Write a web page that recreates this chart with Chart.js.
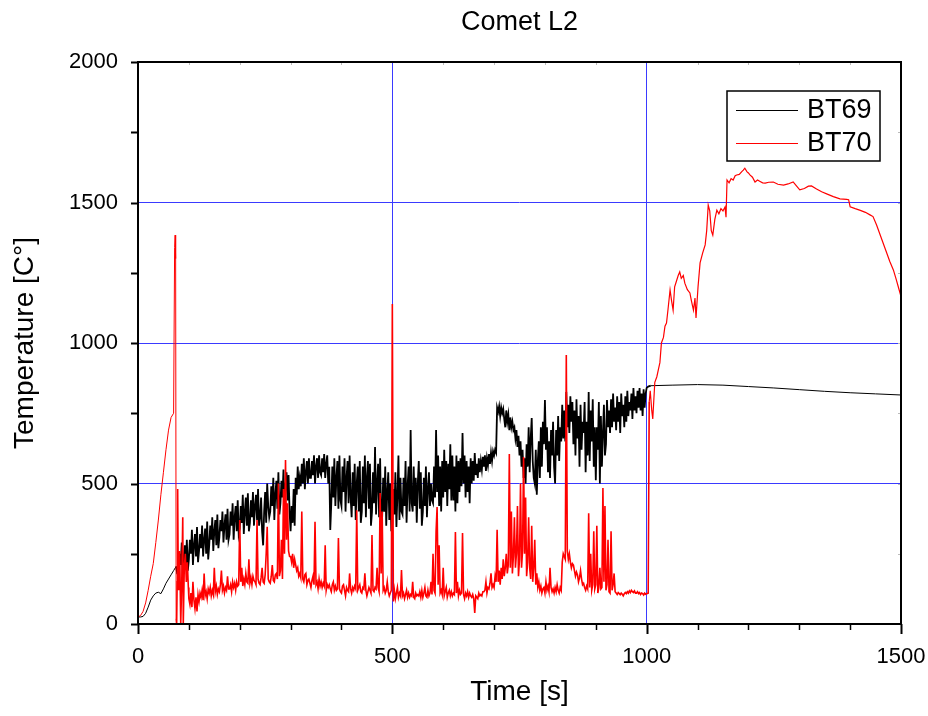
<!DOCTYPE html>
<html>
<head>
<meta charset="utf-8">
<title>Comet L2</title>
<script src="https://cdn.jsdelivr.net/npm/chart.js@4.4.1/dist/chart.umd.min.js"></script>
<style>
  html, body { margin: 0; padding: 0; background: #fff; }
  #chart { display: block; }
</style>
</head>
<body>
<canvas id="chart" width="928" height="716"></canvas>
<script>
// BT69 thermocouple (black)
const bt69Time = [
  0, 5, 10, 15, 20, 25, 30, 35, 40, 45, 50, 55, 60, 65, 70, 75, 77,
  80, 82, 84, 86, 88, 90, 92, 94, 96, 98,
  100, 102, 104, 106, 108, 110, 112, 114, 116, 118,
  120, 122, 124, 126, 128, 130, 132, 134, 136, 138,
  140, 142, 144, 146, 148, 150, 152, 154, 156, 158,
  160, 162, 164, 166, 168, 170, 172, 174, 176, 178,
  180, 182, 184, 186, 188, 190, 192, 194, 196, 198,
  200, 202, 204, 206, 208, 210, 212, 214, 216, 218,
  220, 222, 224, 226, 228, 230, 232, 234, 236, 238,
  240, 242, 244, 246, 248, 250, 252, 254, 256, 258,
  260, 262, 264, 266, 268, 270, 272, 274, 276, 278,
  280, 282, 284, 286, 288, 290, 292, 294, 296, 298,
  300, 302, 304, 306, 308, 310, 312, 314, 316, 318,
  320, 322, 324, 326, 328, 330, 332, 334, 336, 338,
  340, 342, 344, 346, 348, 350, 352, 354, 356, 358,
  360, 362, 364, 366, 368, 370, 372, 374, 376, 378,
  380, 382, 384, 386, 388, 390, 392, 394, 396, 398,
  400, 402, 404, 406, 408, 410, 412, 414, 416, 418,
  420, 422, 424, 426, 428, 430, 432, 434, 436, 438,
  440, 442, 444, 446, 448, 450, 452, 454, 456, 458,
  460, 462, 464, 466, 468, 470, 472, 474, 476, 478,
  480, 482, 484, 486, 488, 490, 492, 494, 496, 498,
  500, 502, 504, 506, 508, 510, 512, 514, 516, 518,
  520, 522, 524, 526, 528, 530, 532, 534, 536, 538,
  540, 542, 544, 546, 548, 550, 552, 554, 556, 558,
  560, 562, 564, 566, 568, 570, 572, 574, 576, 578,
  580, 582, 584, 586, 588, 590, 592, 594, 596, 598,
  600, 602, 604, 606, 608, 610, 612, 614, 616, 618,
  620, 622, 624, 626, 628, 630, 632, 634, 636, 638,
  640, 642, 644, 646, 648, 650, 652, 654, 656, 658,
  660, 662, 664, 666, 668, 670, 672, 674, 676, 678,
  680, 682, 684, 686, 688, 690, 692, 694, 696, 698,
  700, 702, 704, 706, 708, 710, 712, 714, 716, 718,
  720, 722, 724, 726, 728, 730, 732, 734, 736, 738,
  740, 742, 744, 746, 748, 750, 752, 754, 756, 758,
  760, 762, 764, 766, 768, 770, 772, 774, 776, 778,
  780, 782, 784, 786, 788, 790, 792, 794, 796, 798,
  800, 802, 804, 806, 808, 810, 812, 814, 816, 818,
  820, 822, 824, 826, 828, 830, 832, 834, 836, 838,
  840, 842, 844, 846, 848, 850, 852, 854, 856, 858,
  860, 862, 864, 866, 868, 870, 872, 874, 876, 878,
  880, 882, 884, 886, 888, 890, 892, 894, 896, 898,
  900, 902, 904, 906, 908, 910, 912, 914, 916, 918,
  920, 922, 924, 926, 928, 930, 932, 934, 936, 938,
  940, 942, 944, 946, 948, 950, 952, 954, 956, 958,
  960, 962, 964, 966, 968, 970, 972, 974, 976, 978,
  980, 982, 984, 986, 988, 990, 992, 994, 996, 998,
  1000, 1003, 1008, 1050, 1100, 1150, 1200, 1250, 1300, 1350, 1400, 1450, 1500
];
const bt69Temp = [
  25, 25, 27, 38, 60, 85, 100, 110, 113, 108, 125, 145, 160, 175, 190, 205, 180,
  180, 250, 210, 290, 170, 240, 280, 200, 300, 190,
  230, 300, 250, 335, 210, 280, 320, 240, 345, 220,
  260, 320, 270, 350, 240, 300, 340, 250, 365, 230,
  280, 350, 300, 380, 260, 330, 370, 280, 390, 270,
  310, 370, 330, 400, 290, 350, 390, 300, 410, 300,
  320, 400, 350, 430, 300, 380, 420, 330, 440, 320,
  340, 420, 360, 460, 320, 400, 450, 350, 465, 330,
  360, 440, 380, 470, 350, 420, 460, 370, 480, 350,
  380, 450, 330, 280, 400, 470, 360, 500, 420, 380,
  400, 490, 420, 520, 370, 460, 510, 410, 540, 390,
  430, 510, 450, 550, 410, 490, 540, 440, 530, 400,
  330, 420, 360, 480, 350, 520, 460, 560, 480, 520,
  490, 570, 500, 590, 480, 540, 580, 500, 590, 520,
  520, 580, 530, 600, 500, 560, 590, 520, 600, 540,
  530, 590, 540, 605, 520, 570, 600, 500, 560, 335,
  430, 560, 450, 590, 420, 520, 580, 410, 600, 440,
  420, 560, 470, 590, 400, 520, 580, 430, 600, 450,
  380, 540, 420, 570, 370, 500, 560, 400, 580, 360,
  400, 560, 430, 600, 380, 520, 580, 410, 570, 350,
  400, 540, 430, 630, 390, 500, 570, 380, 590, 370,
  380, 520, 400, 560, 350, 470, 540, 370, 500, 330,
  360, 480, 390, 540, 345, 460, 600, 370, 520, 400,
  390, 520, 420, 580, 360, 490, 560, 400, 690, 430,
  400, 560, 420, 520, 360, 500, 580, 410, 540, 350,
  400, 520, 420, 560, 380, 480, 540, 420, 500, 440,
  430, 560, 450, 690, 470, 600, 420, 560, 400, 580,
  450, 620, 470, 580, 420, 570, 480, 640, 440, 600,
  440, 560, 400, 600, 430, 580, 470, 590, 490, 680,
  500, 600, 450, 580, 470, 560, 430, 590, 500, 580,
  510, 608, 530, 570, 520, 590, 540, 580, 550, 595,
  560, 600, 545, 590, 565, 605, 570, 610, 580, 615,
  600, 620, 610, 770, 755, 775, 740, 770, 750, 765,
  730, 700, 760, 720, 745, 690, 735, 700, 720, 690,
  700, 660, 690, 630, 670, 600, 650, 560, 620, 520,
  590, 500, 640, 560, 700, 540, 660, 733, 580, 520,
  500, 620, 460, 580, 650, 520, 700, 560, 720, 640,
  797, 620, 700, 540, 650, 520, 690, 600, 720, 560,
  500, 690, 600, 740, 580, 700, 650, 780, 660, 760,
  650, 826, 700, 780, 680, 810, 720, 790, 640, 760,
  600, 800, 660, 740, 560, 780, 620, 720, 680, 790,
  540, 720, 600, 826, 580, 760, 650, 800, 560, 700,
  512, 700, 620, 790, 500, 740, 560, 680, 780, 600,
  640, 797, 700, 760, 680, 800, 700, 820, 720, 770,
  690, 810, 720, 790, 680, 820, 740, 780, 700, 810,
  720, 830, 740, 790, 760, 820, 730, 840, 760, 810,
  750, 830, 770, 840, 760, 820, 740, 835, 770, 820,
  840, 845, 848, 850, 852, 850, 845, 840, 834, 828, 823, 819, 815
];

// BT70 thermocouple (red)
const bt70Time = [
  0, 5, 10, 15, 20, 25, 30, 35, 40, 45, 50, 55, 60, 65, 70,
  72, 73, 74, 75, 76, 77, 78, 79, 80, 82, 84, 86, 88, 89, 91, 93, 95, 97, 99,
  100, 102, 104, 106, 108, 110, 112, 114, 116, 118,
  120, 122, 124, 126, 128, 130, 132, 134, 136, 138,
  140, 142, 144, 146, 148, 150, 152, 154, 156, 158,
  160, 162, 164, 166, 168, 170, 172, 174, 176, 178,
  180, 182, 184, 186, 188, 190, 192, 194, 196, 198,
  200, 202, 204, 206, 208, 210, 212, 214, 216, 218,
  220, 222, 224, 226, 228, 230, 232, 234, 236, 238,
  240, 242, 244, 246, 248, 250, 252, 254, 256, 258,
  260, 262, 264, 266, 268, 270, 272, 274, 276, 278,
  280, 282, 284, 286, 288, 290, 292, 294, 296, 298,
  300, 302, 304, 306, 308, 310, 312, 314, 316, 318,
  320, 322, 324, 326, 328, 330, 332, 334, 336, 338,
  340, 342, 344, 346, 348, 350, 352, 354, 356, 358,
  360, 362, 364, 366, 368, 370, 372, 374, 376, 378,
  380, 382, 384, 386, 388, 390, 392, 394, 396, 398,
  400, 402, 404, 406, 408, 410, 412, 414, 416, 418,
  420, 422, 424, 426, 428, 430, 432, 434, 436, 438,
  440, 442, 444, 446, 448, 450, 452, 454, 456, 458,
  460, 462, 464, 466, 468, 470, 472, 474, 476, 478,
  480, 482, 484, 486, 488, 490, 492, 494, 496, 498,
  500, 502, 504, 506, 508, 510, 512, 514, 516, 518,
  520, 522, 524, 526, 528, 530, 532, 534, 536, 538,
  540, 542, 544, 546, 548, 550, 552, 554, 556, 558,
  560, 562, 564, 566, 568, 570, 572, 574, 576, 578,
  580, 582, 584, 586, 588, 590, 592, 594, 596, 598,
  600, 602, 604, 606, 608, 610, 612, 614, 616, 618,
  620, 622, 624, 626, 628, 630, 632, 634, 636, 638,
  640, 642, 644, 646, 648, 650, 652, 654, 656, 658,
  660, 662, 664, 666, 668, 670, 672, 674, 676, 678,
  680, 682, 684, 686, 688, 690, 692, 694, 696, 698,
  700, 702, 704, 706, 708, 710, 712, 714, 716, 718,
  720, 722, 724, 726, 728, 730, 732, 734, 736, 738,
  740, 742, 744, 746, 748, 750, 752, 754, 756, 758,
  760, 762, 764, 766, 768, 770, 772, 774, 776, 778,
  780, 782, 784, 786, 788, 790, 792, 794, 796, 798,
  800, 802, 804, 806, 808, 810, 812, 814, 816, 818,
  820, 822, 824, 826, 828, 830, 832, 834, 836, 838,
  840, 842, 844, 846, 848, 850, 852, 854, 856, 858,
  860, 862, 864, 866, 868, 870, 872, 874, 876, 878,
  880, 882, 884, 886, 888, 890, 892, 894, 896, 898,
  900, 902, 904, 906, 908, 910, 912, 914, 916, 918,
  920, 922, 924, 926, 928, 930, 932, 934, 936, 938,
  940, 942, 944, 946, 948, 950, 952, 954, 956, 958,
  960, 962, 964, 966, 968, 970, 972, 974, 976, 978,
  980, 982, 984, 986, 988, 990, 992, 994, 996, 998,
  1000, 1003, 1005, 1007, 1010, 1012, 1016, 1020, 1023, 1026,
  1029, 1033, 1036, 1039, 1042, 1046, 1049, 1052, 1055, 1058,
  1062, 1065, 1068, 1072, 1075, 1080, 1085, 1088, 1092, 1095,
  1097, 1101, 1105, 1110, 1115, 1118, 1121, 1124, 1127, 1130,
  1134, 1138, 1142, 1146, 1150, 1154, 1156, 1158, 1162, 1166,
  1170, 1174, 1177, 1182, 1187, 1190, 1193, 1197, 1200, 1203,
  1208, 1213, 1218, 1223, 1228, 1233, 1240, 1249, 1258, 1269,
  1278, 1288, 1294, 1301, 1310, 1318, 1324, 1334, 1344, 1355,
  1367, 1380, 1393, 1397, 1400, 1410, 1420, 1430, 1439, 1445,
  1452, 1460, 1470, 1478, 1485, 1490, 1497, 1500
];
const bt70Temp = [
  25, 30, 45, 75, 120, 170, 215, 290, 370, 460, 540, 620, 690, 735, 750,
  1340, 1384, 1300, 20, 0, 150, 480, 200, 120, 260, 0, 150, 380, 0, 200, 250, 150, 220, 130,
  90, 70, 110, 60, 150, 85, 55, 95, 45, 105,
  80, 110, 95, 120, 85, 180, 100, 115, 90, 125,
  110, 130, 100, 120, 105, 200, 115, 135, 105, 125,
  115, 140, 190, 120, 135, 110, 130, 120, 170, 125,
  125, 140, 115, 150, 130, 145, 120, 150, 135, 140,
  370, 150, 200, 135, 160, 140, 180, 150, 145, 230,
  145, 165, 140, 170, 155, 150, 140, 370, 160, 145,
  140, 165, 200, 150, 145, 175, 250, 346, 160, 150,
  145, 170, 210, 155, 150, 175, 180, 160, 500, 170,
  190, 300, 160, 480, 250, 584, 300, 430, 260, 240,
  240, 220, 250, 200, 230, 210, 190, 200, 170, 180,
  165, 400, 160, 150, 175, 180, 140, 155, 160, 145,
  130, 155, 170, 140, 364, 140, 150, 125, 160, 135,
  150, 130, 145, 135, 280, 120, 140, 130, 140, 125,
  115, 140, 150, 120, 135, 120, 125, 306, 125, 115,
  110, 135, 140, 120, 100, 130, 120, 115, 180, 125,
  110, 130, 120, 135, 125, 405, 120, 130, 140, 115,
  110, 130, 125, 180, 120, 100, 115, 130, 120, 110,
  317, 120, 115, 130, 125, 200, 130, 115, 466, 180,
  400, 120, 130, 110, 120, 150, 115, 100, 110, 120,
  1139, 80, 120, 90, 110, 130, 95, 110, 100, 192,
  100, 110, 90, 105, 120, 95, 110, 95, 105, 100,
  150, 95, 90, 110, 100, 105, 100, 115, 95, 120,
  95, 110, 130, 100, 95, 120, 100, 110, 150, 105,
  250, 120, 110, 330, 416, 140, 280, 110, 120, 105,
  200, 100, 115, 130, 95, 110, 120, 100, 115, 100,
  110, 105, 327, 110, 150, 100, 120, 105, 110, 324,
  105, 90, 110, 100, 115, 95, 110, 100, 95, 105,
  90, 39, 100, 95, 90, 110, 100, 105, 100, 115,
  115, 120, 150, 110, 130, 125, 145, 180, 130, 140,
  130, 170, 150, 335, 150, 190, 140, 200, 160, 230,
  170, 200, 250, 180, 210, 605, 200, 400, 180, 240,
  380, 200, 250, 420, 170, 230, 500, 200, 260, 594,
  250, 450, 170, 220, 380, 200, 160, 350, 150, 200,
  300, 140, 180, 130, 150, 120, 135, 110, 125, 130,
  110, 150, 120, 135, 115, 200, 130, 115, 125, 110,
  130, 115, 140, 120, 110, 130, 120, 220, 250, 240,
  230, 957, 260, 230, 250, 220, 200, 215, 210, 190,
  170, 185, 175, 150, 165, 190, 160, 140, 145, 130,
  120, 135, 125, 394, 130, 250, 120, 140, 330, 125,
  140, 350, 110, 130, 200, 125, 130, 484, 150, 420,
  120, 140, 300, 115, 110, 330, 120, 140, 180, 115,
  110, 105, 112, 108, 104, 110, 106, 100, 108, 112,
  108, 115, 110, 118, 112, 120, 115, 112, 118, 110,
  110, 115, 108, 112, 105, 110, 108, 103, 110, 106,
  108, 110, 790, 830, 760, 730, 860, 880, 905, 930,
  1000, 1020, 1060, 1071, 1120, 1189, 1150, 1117, 1200, 1217,
  1240, 1253, 1230, 1240, 1213, 1190, 1178, 1150, 1117, 1160,
  1089, 1200, 1285, 1320, 1349, 1400, 1491, 1470, 1400, 1384,
  1440, 1473, 1460, 1478, 1470, 1484, 1448, 1580, 1570, 1585,
  1580, 1595, 1598, 1600, 1610, 1615, 1622, 1610, 1605, 1598,
  1590, 1573, 1580, 1575, 1570, 1569, 1572, 1573, 1565, 1562,
  1566, 1573, 1560, 1545, 1550, 1558, 1559, 1548, 1538, 1530,
  1521, 1513, 1511, 1510, 1485, 1478, 1472, 1465, 1456, 1450,
  1420, 1380, 1330, 1290, 1260, 1230, 1185, 1165
];

const FONT = "'Liberation Sans', Arial, sans-serif";
const GRID_BLUE = "#3a3aff";

function toPoints(times, temps) {
  return times.map((t, i) => ({ x: t, y: temps[i] }));
}

function majorGrid(ctx) {
  const v = ctx.tick ? ctx.tick.value : null;
  const scale = ctx.scale;
  return v !== null && v > scale.min && v < scale.max ? GRID_BLUE : "rgba(0,0,0,0)";
}

// noisy part of the record is drawn heavier, like the original plot
function lineWidthFor(noisy, after) {
  return (ctx) => {
    const t = ctx.p0.parsed.x;
    if (t > 74 && t < 1004) return noisy;
    return t >= 1004 ? after : 1;
  };
}

// title centred over the plot area
const plotTitle = {
  id: "plotTitle",
  afterDraw(chart) {
    const { ctx, chartArea: a } = chart;
    ctx.save();
    ctx.fillStyle = "#000";
    ctx.font = "27px " + FONT;
    ctx.textAlign = "center";
    ctx.textBaseline = "middle";
    ctx.fillText("Comet L2", (a.left + a.right) / 2, 23);
    ctx.restore();
  }
};

// box round the plot plus major/minor tick marks
const frame = {
  id: "frame",
  afterDatasetsDraw(chart) {
    const { ctx, chartArea: a, scales: { x, y } } = chart;
    ctx.save();
    for (let v = 0; v <= 1500; v += 100) {
      const px = Math.round(x.getPixelForValue(v)) + 0.5;
      const major = v % 500 === 0;
      ctx.lineWidth = major ? 2 : 1.5;
      ctx.strokeStyle = "#000";
      ctx.beginPath();
      ctx.moveTo(px, a.bottom);
      ctx.lineTo(px, a.bottom + (major ? 10 : 6));
      ctx.stroke();
      if (!major) {
        ctx.strokeStyle = "#bbb";
        ctx.lineWidth = 1;
        ctx.beginPath();
        ctx.moveTo(px, a.top);
        ctx.lineTo(px, a.top + 3);
        ctx.stroke();
      }
    }
    for (let v = 0; v <= 2000; v += 250) {
      const py = Math.round(y.getPixelForValue(v)) + 0.5;
      ctx.strokeStyle = "#000";
      ctx.lineWidth = 2;
      ctx.beginPath();
      ctx.moveTo(a.left - 7, py);
      ctx.lineTo(a.left, py);
      ctx.stroke();
      ctx.strokeStyle = "#bbb";
      ctx.lineWidth = 1;
      ctx.beginPath();
      ctx.moveTo(a.right - 3, py);
      ctx.lineTo(a.right, py);
      ctx.stroke();
    }
    ctx.strokeStyle = "#000";
    ctx.lineWidth = 2;
    ctx.strokeRect(a.left, a.top, a.right - a.left, a.bottom - a.top);
    ctx.restore();
  }
};

// legend box in the upper right of the plot
const legendBox = {
  id: "legendBox",
  afterDraw(chart) {
    const { ctx, chartArea: a } = chart;
    const w = 153, h = 70;
    const left = a.right - 21 - w;
    const top = a.top + 29;
    ctx.save();
    ctx.fillStyle = "#fff";
    ctx.fillRect(left, top, w, h);
    ctx.strokeStyle = "#000";
    ctx.lineWidth = 1.5;
    ctx.strokeRect(left, top, w, h);
    ctx.font = "27px " + FONT;
    ctx.textBaseline = "middle";
    chart.data.datasets.forEach((ds, i) => {
      const cy = top + 19 + i * 33;
      ctx.strokeStyle = ds.borderColor;
      ctx.lineWidth = 1;
      ctx.beginPath();
      ctx.moveTo(left + 9, cy + 0.5);
      ctx.lineTo(left + 71, cy + 0.5);
      ctx.stroke();
      ctx.fillStyle = "#000";
      ctx.fillText(ds.label, left + 80, cy + 1);
    });
    ctx.restore();
  }
};

const tickFont = { family: FONT, size: 22 };
const titleFont = { family: FONT, size: 28 };

new Chart(document.getElementById("chart").getContext("2d"), {
  type: "line",
  data: {
    datasets: [
      {
        label: "BT69",
        data: toPoints(bt69Time, bt69Temp),
        borderColor: "#000000",
        borderWidth: 1,
        segment: { borderWidth: lineWidthFor(1.8, 1) },
        pointRadius: 0,
        order: 2
      },
      {
        label: "BT70",
        data: toPoints(bt70Time, bt70Temp),
        borderColor: "#ff0000",
        borderWidth: 1,
        segment: { borderWidth: lineWidthFor(1.6, 1.2) },
        pointRadius: 0,
        order: 1
      }
    ]
  },
  options: {
    responsive: false,
    animation: false,
    events: [],
    layout: { padding: { left: 0, right: 0, top: 62, bottom: 0 } },
    plugins: {
      legend: { display: false },
      tooltip: { enabled: false },
      title: { display: false }
    },
    scales: {
      x: {
        type: "linear",
        min: 0,
        max: 1500,
        afterFit: (s) => {
          s.height = 92;
          s.paddingLeft = 0;
          s.paddingRight = 27;
        },
        ticks: {
          stepSize: 500, color: "#000", font: tickFont, padding: 20, maxRotation: 0,
          callback: (v) => String(v)
        },
        grid: { color: majorGrid, lineWidth: 1, drawTicks: false },
        border: { display: false },
        title: { display: true, text: "Time [s]", color: "#000", font: titleFont, padding: { top: 0, bottom: 7 } }
      },
      y: {
        type: "linear",
        min: 0,
        max: 2000,
        afterFit: (s) => {
          s.width = 138;
          s.paddingTop = 0;
          s.paddingBottom = 0;
        },
        ticks: {
          stepSize: 500, color: "#000", font: tickFont, padding: 20,
          callback: (v) => String(v)
        },
        grid: { color: majorGrid, lineWidth: 1, drawTicks: false },
        border: { display: false },
        title: { display: true, text: "Temperature [C°]", color: "#000", font: titleFont, padding: { top: 8, bottom: 0 } }
      }
    }
  },
  plugins: [frame, legendBox, plotTitle]
});
</script>
</body>
</html>
